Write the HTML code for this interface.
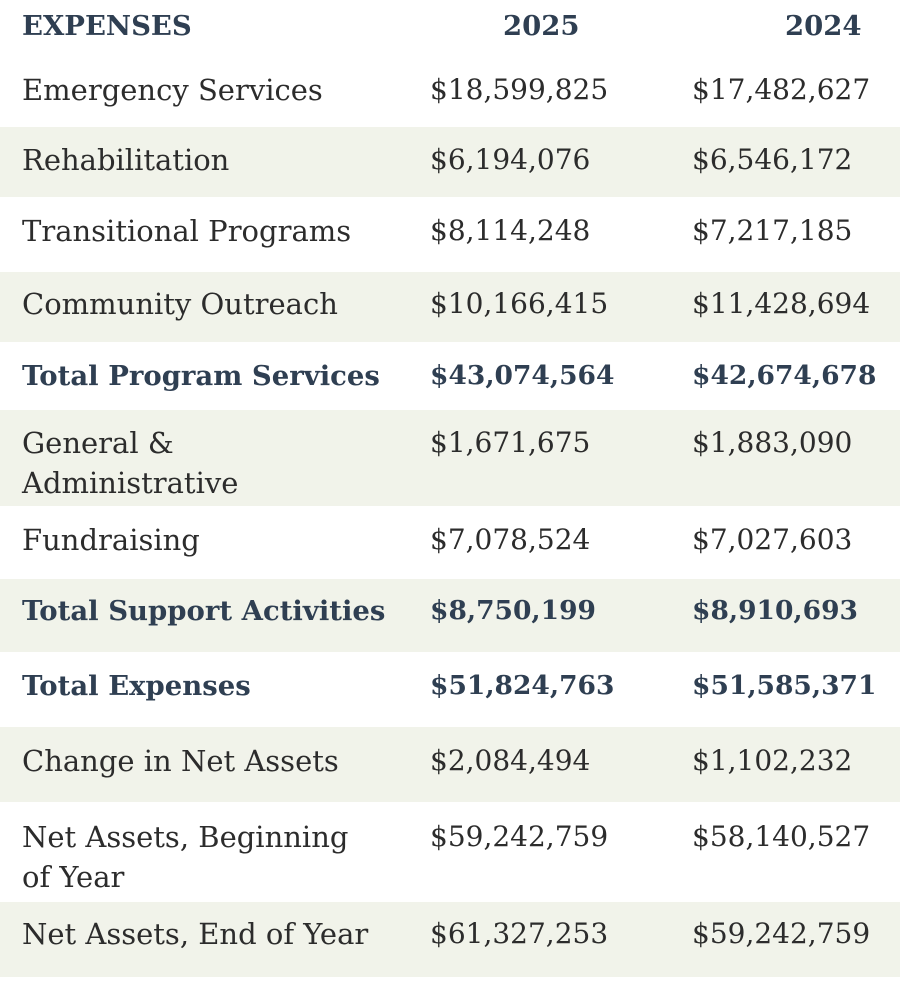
<!DOCTYPE html>
<html><head><meta charset="utf-8"><style>
body{margin:0;width:900px;height:1000px;background:#fff;position:relative;overflow:hidden;font-family:"DejaVu Serif","Liberation Serif",serif;color:#2c2c2c}
.r{position:absolute;left:0;width:900px}
.g{background:#f1f3ea}
.c{position:absolute;font-size:28px;line-height:40px;white-space:nowrap}
.l{left:22px;font-size:29px}.a{left:430px}.b{left:692px}
.bl{color:#2f3f52;font-weight:bold}
.bl .l{font-size:27.5px}
.bl .a,.bl .b{font-size:26.5px}
.h{font-weight:bold;color:#2f3f52;font-size:27.5px;position:absolute;top:6px;line-height:40px}
</style></head><body>
<div class="h" style="left:22px">EXPENSES</div>
<div class="h" style="left:503px">2025</div>
<div class="h" style="left:785px">2024</div>

<div class="r" style="top:55px;height:72px"><div class="c l" style="top:15px">Emergency Services</div><div class="c a" style="top:15px">$18,599,825</div><div class="c b" style="top:15px">$17,482,627</div></div>
<div class="r g" style="top:127px;height:70px"><div class="c l" style="top:13px">Rehabilitation</div><div class="c a" style="top:13px">$6,194,076</div><div class="c b" style="top:13px">$6,546,172</div></div>
<div class="r" style="top:197px;height:75px"><div class="c l" style="top:14px">Transitional Programs</div><div class="c a" style="top:14px">$8,114,248</div><div class="c b" style="top:14px">$7,217,185</div></div>
<div class="r g" style="top:272px;height:70px"><div class="c l" style="top:12px">Community Outreach</div><div class="c a" style="top:12px">$10,166,415</div><div class="c b" style="top:12px">$11,428,694</div></div>
<div class="r bl" style="top:342px;height:68px"><div class="c l" style="top:14px">Total Program Services</div><div class="c a" style="top:14px">$43,074,564</div><div class="c b" style="top:14px">$42,674,678</div></div>
<div class="r g" style="top:410px;height:96px"><div class="c l" style="top:13px">General &amp;<br>Administrative</div><div class="c a" style="top:13px">$1,671,675</div><div class="c b" style="top:13px">$1,883,090</div></div>
<div class="r" style="top:506px;height:73px"><div class="c l" style="top:14px">Fundraising</div><div class="c a" style="top:14px">$7,078,524</div><div class="c b" style="top:14px">$7,027,603</div></div>
<div class="r g bl" style="top:579px;height:73px"><div class="c l" style="top:12px">Total Support Activities</div><div class="c a" style="top:12px">$8,750,199</div><div class="c b" style="top:12px">$8,910,693</div></div>
<div class="r bl" style="top:652px;height:75px"><div class="c l" style="top:14px">Total Expenses</div><div class="c a" style="top:14px">$51,824,763</div><div class="c b" style="top:14px">$51,585,371</div></div>
<div class="r g" style="top:727px;height:75px"><div class="c l" style="top:14px">Change in Net Assets</div><div class="c a" style="top:14px">$2,084,494</div><div class="c b" style="top:14px">$1,102,232</div></div>
<div class="r" style="top:802px;height:100px"><div class="c l" style="top:15px">Net Assets, Beginning<br>of Year</div><div class="c a" style="top:15px">$59,242,759</div><div class="c b" style="top:15px">$58,140,527</div></div>
<div class="r g" style="top:902px;height:75px"><div class="c l" style="top:12px">Net Assets, End of Year</div><div class="c a" style="top:12px">$61,327,253</div><div class="c b" style="top:12px">$59,242,759</div></div>
</body></html>
